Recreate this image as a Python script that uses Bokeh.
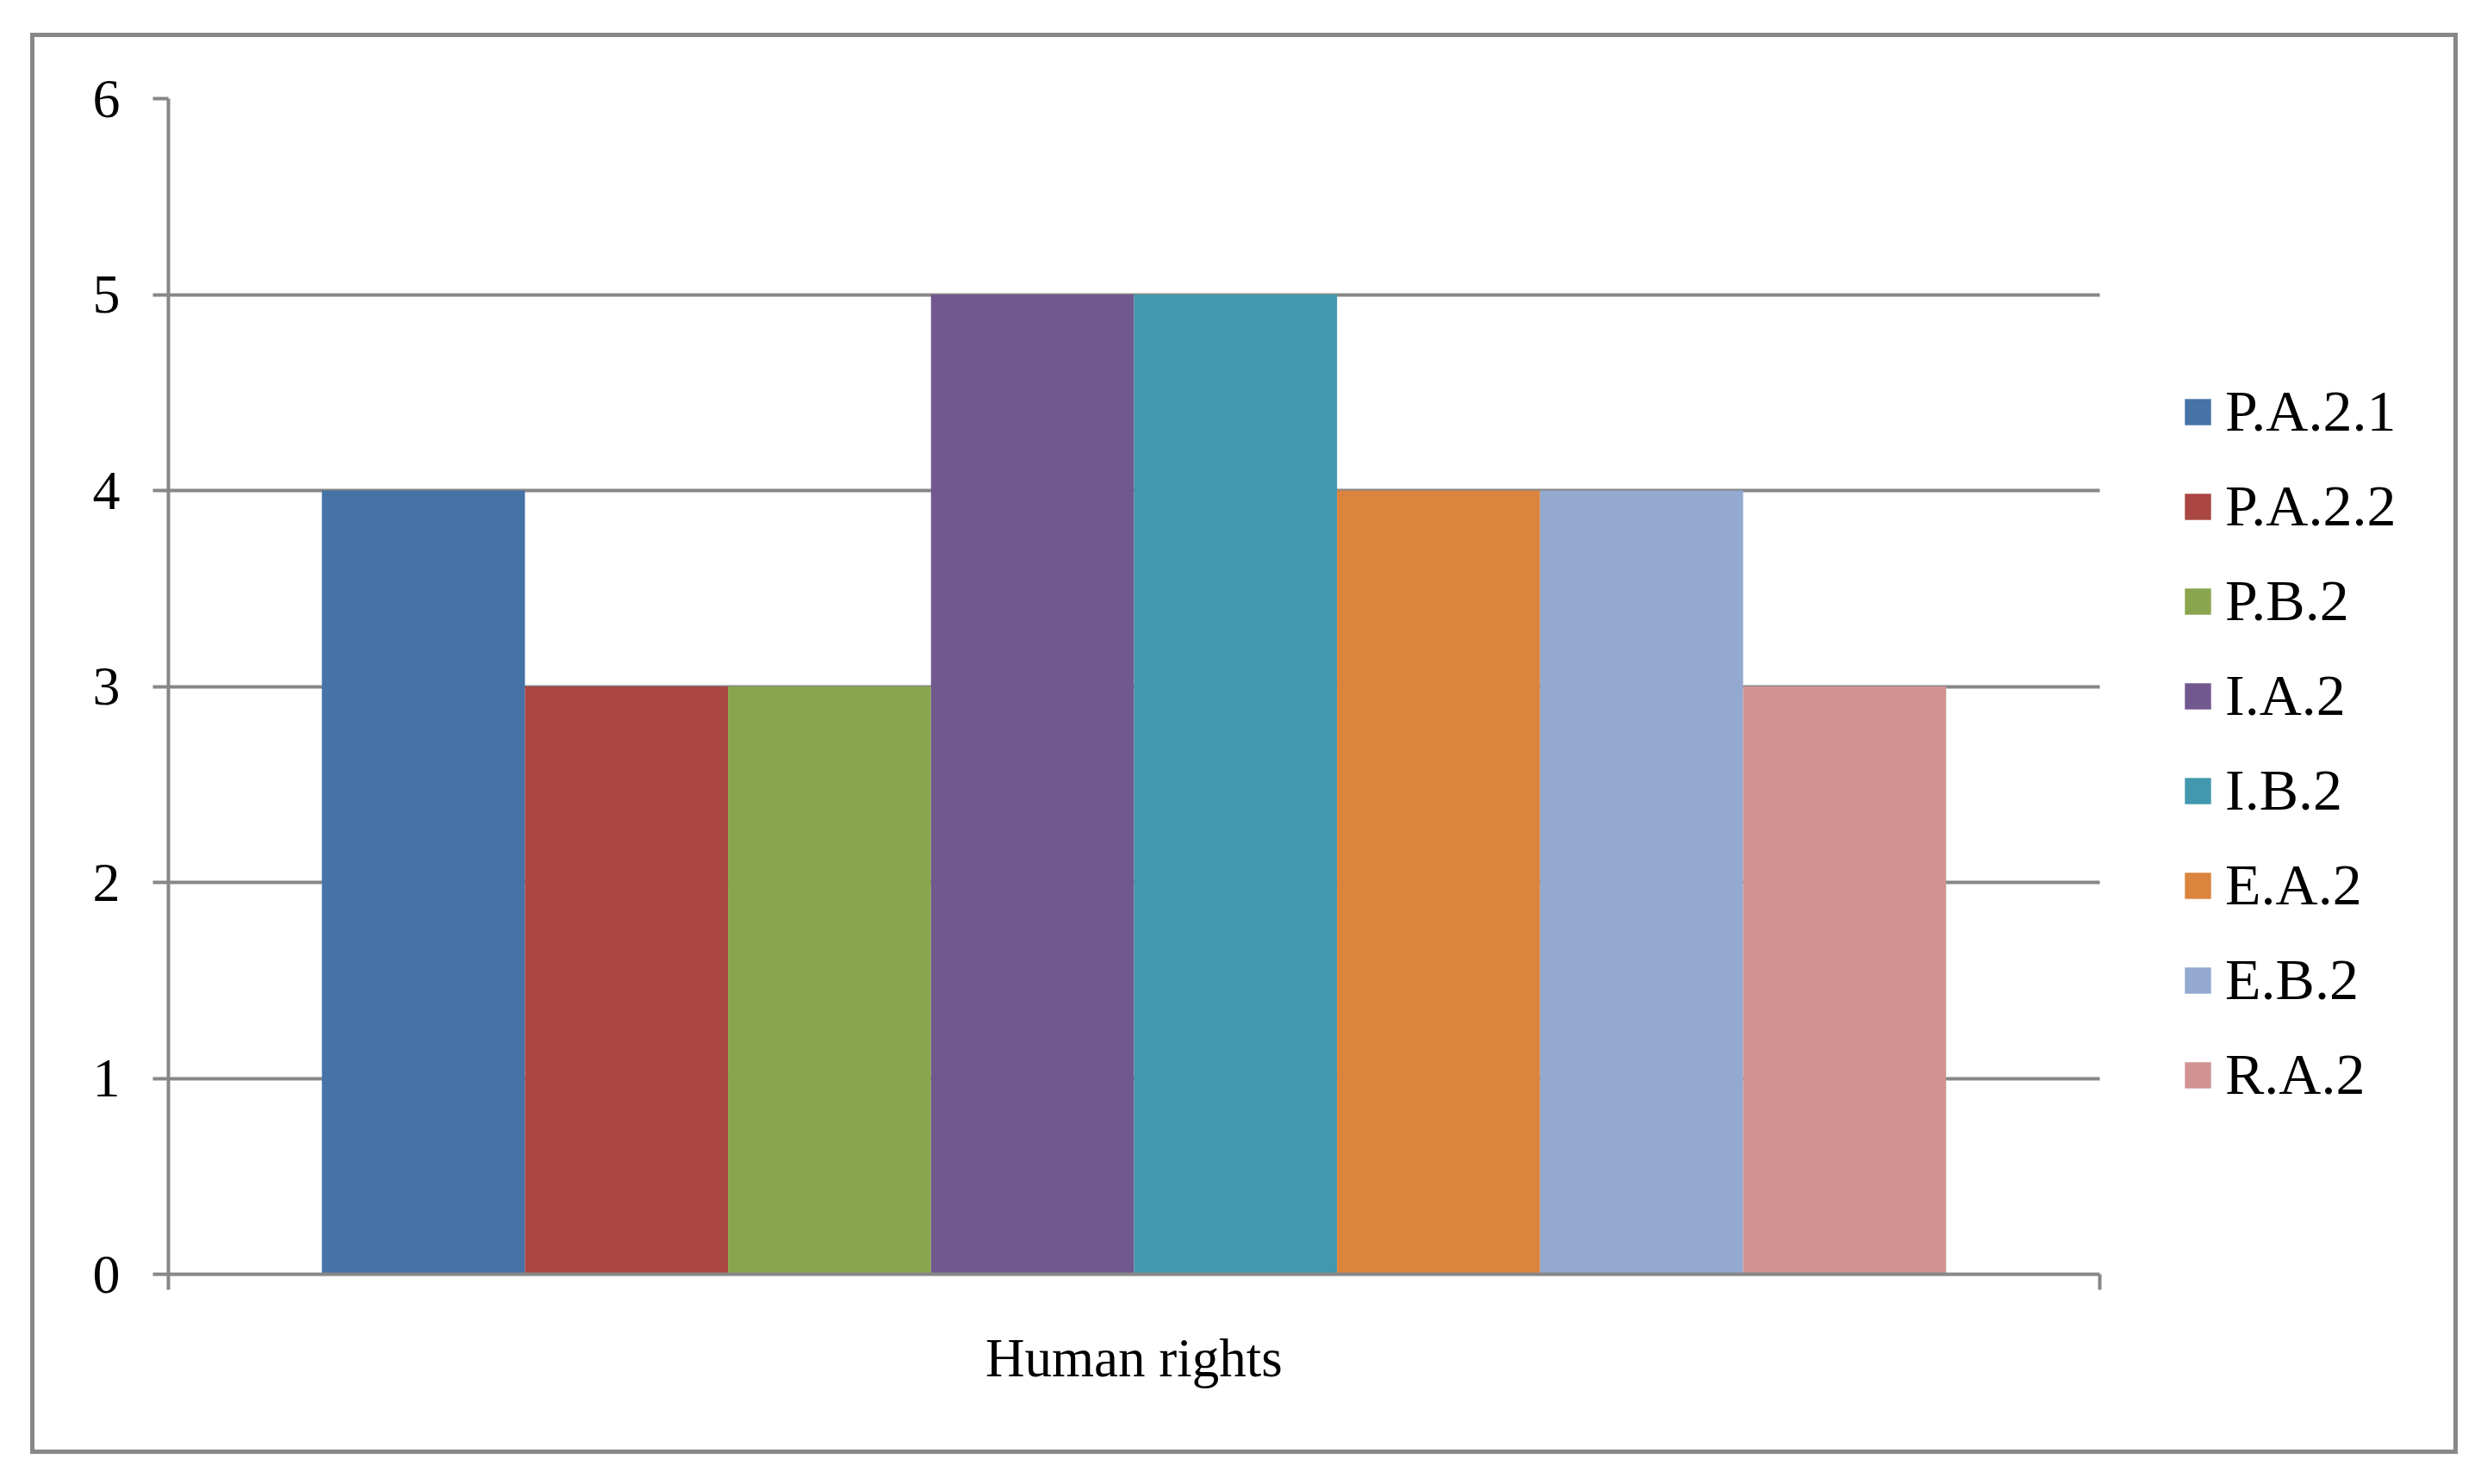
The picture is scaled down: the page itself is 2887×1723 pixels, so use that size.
from bokeh.plotting import figure
from bokeh.models import (Range1d, LinearAxis, FixedTicker, ColumnDataSource,
                          CustomJSTickFormatter)
from bokeh.embed import file_html
from bokeh.resources import INLINE

# ---- data ----
category = "Human rights"
series = ["P.A.2.1", "P.A.2.2", "P.B.2", "I.A.2", "I.B.2", "E.A.2", "E.B.2", "R.A.2"]
values = [4, 3, 3, 5, 5, 4, 4, 3]
colors = ["#4572A7", "#AA4643", "#89A54E", "#71588F", "#4198AF", "#DB843D", "#93A9CF", "#D19392"]
y_ticks = [0, 1, 2, 3, 4, 5, 6]

# ---- layout (pixels on the canvas) ----
W, H = 2808, 1640
FL, FT, BOTTOM, RIGHT = 155, 71, 214, 20
AREA_W = 2241            # width of the category area (axis line / grid lines)
GRAY = "#878787"
FONT = "Liberation Serif"
PAD = 0.756              # gap (in bar widths) between category edge and first/last bar

n = len(series)
slot = [i + 0.5 for i in range(n)]  # position of each series inside the category
src = ColumnDataSource(dict(series=series, value=values, color=colors, x=slot))

frame_w = W - FL - RIGHT + 9
x_end = -PAD + frame_w * (n + 2 * PAD) / AREA_W   # frame also holds the legend

p = figure(x_range=Range1d(-PAD, x_end), y_range=Range1d(0, 6),
           width=W, height=H, output_backend="svg", toolbar_location=None,
           x_axis_location=None)
p.styles = {"border": "5px solid " + GRAY, "box-sizing": "content-box",
            "margin-left": "35px", "margin-top": "38px"}
p.min_border_left = FL
p.min_border_right = RIGHT
p.min_border_top = FT
p.min_border_bottom = BOTTOM
p.outline_line_color = None
p.background_fill_color = "white"
p.border_fill_color = "white"

p.vbar(x="x", top="value", bottom=0, width=1.0, fill_color="color",
       line_color=None, source=src, legend_field="series")

# y axis
ya = p.yaxis[0]
ya.ticker = FixedTicker(ticks=y_ticks)
ya.axis_line_color = GRAY
ya.axis_line_width = 4
ya.major_tick_line_color = GRAY
ya.major_tick_line_width = 4
ya.major_tick_out = 18
ya.major_tick_in = 0
ya.minor_tick_line_color = None
ya.major_label_standoff = 38
ya.major_label_text_font = FONT
ya.major_label_text_font_size = "64px"
ya.major_label_text_color = "black"

p.ygrid.ticker = FixedTicker(ticks=y_ticks)
p.ygrid.grid_line_color = GRAY
p.ygrid.grid_line_width = 4
try:
    p.ygrid.cross_bounds = (-PAD, n + PAD)
except Exception:
    pass
p.xgrid.grid_line_color = None

# x axis: line with ticks at the category edges
xa = LinearAxis(ticker=FixedTicker(ticks=[-PAD, n + PAD]),
                major_label_overrides={-PAD: "", n + PAD: ""},
                bounds=(-PAD, n + PAD))
xa.axis_line_color = GRAY
xa.axis_line_width = 4
xa.major_tick_line_color = GRAY
xa.major_tick_line_width = 4
xa.major_tick_out = 18
xa.major_tick_in = 0
xa.minor_tick_line_color = None
xa.major_label_standoff = 0
xa.major_label_text_font_size = "1px"
p.add_layout(xa, "below")

# category name, centred under the category area
xc = LinearAxis(ticker=FixedTicker(ticks=[n / 2]),
                formatter=CustomJSTickFormatter(args=dict(name=category), code="return name"),
                bounds=(-PAD, n + PAD))
xc.axis_line_color = None
xc.major_tick_line_color = None
xc.minor_tick_line_color = None
xc.major_tick_out = 0
xc.major_tick_in = 0
xc.major_label_standoff = 44
xc.major_label_text_font = FONT
xc.major_label_text_font_size = "63px"
xc.major_label_text_color = "black"
p.add_layout(xc, "below")

# legend (inside the widened frame, right of the category area)
leg = p.legend[0]
leg.location = (2337, 192)
leg.border_line_color = None
leg.background_fill_alpha = 0
leg.padding = 0
leg.margin = 0
leg.glyph_width = 38
leg.glyph_height = 38
leg.label_standoff = 13
leg.spacing = 31
leg.label_text_font = FONT
leg.label_text_font_size = "68px"
leg.label_text_color = "black"

open("out.html", "w").write(file_html(p, INLINE))
